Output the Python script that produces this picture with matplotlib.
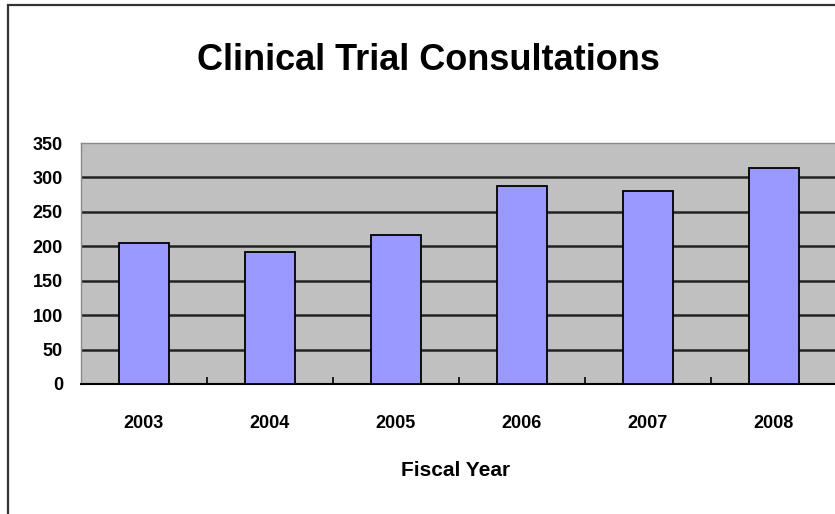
import matplotlib
matplotlib.use("Agg")
import matplotlib.pyplot as plt
from matplotlib.patches import Rectangle

years = ["2003", "2004", "2005", "2006", "2007", "2008"]
consultations = [205, 192, 216, 287, 281, 313]
yticks = [0, 50, 100, 150, 200, 250, 300, 350]

font = ["Liberation Sans", "DejaVu Sans"]

fig = plt.figure(figsize=(8.35, 5.14), dpi=100)

# outer chart frame (clipped on the right like the original)
fig.patches.append(Rectangle((8 / 835, -0.05), 1.1, 1 - 5 / 514 + 0.05,
                             transform=fig.transFigure, fill=False,
                             edgecolor="#333333", linewidth=1.6))

ax = fig.add_axes([81 / 835, 1 - 384 / 514, 756 / 835, 241 / 514])
ax.set_facecolor("#C0C0C0")

x = list(range(len(years)))
ax.bar(x, consultations, width=0.39, color="#9999FF", edgecolor="black",
       linewidth=1.3, zorder=3)

ax.set_xlim(-0.5, len(years) - 0.5)
ax.set_ylim(0, 350)
ax.set_yticks(yticks)
ax.set_yticklabels(yticks, fontfamily=font, fontweight="bold", fontsize=13)
for y in yticks[1:-1]:
    ax.axhline(y, color="#222222", linewidth=1.8, zorder=1)

ax.set_xticks(x)
ax.set_xticklabels(years, fontfamily=font, fontweight="bold", fontsize=13)
ax.tick_params(axis="x", length=0, pad=22)
ax.tick_params(axis="y", length=0, pad=13)
# small inward ticks between categories
ax.set_xticks([i + 0.5 for i in x[:-1]], minor=True)
ax.tick_params(axis="x", which="minor", direction="in", length=5, width=1.2, color="black")

for side in ["top", "right", "left"]:
    ax.spines[side].set_color("#888888")
    ax.spines[side].set_linewidth(1)
ax.spines["bottom"].set_color("black")
ax.spines["bottom"].set_linewidth(1.5)

fig.text(428 / 835, 1 - 60 / 514, "Clinical Trial Consultations", ha="center", va="center",
         fontfamily=font, fontweight="bold", fontsize=26)
fig.text(456 / 835, 1 - 471 / 514, "Fiscal Year", ha="center", va="center",
         fontfamily=font, fontweight="bold", fontsize=15)

fig.savefig("out.png", dpi=100)
